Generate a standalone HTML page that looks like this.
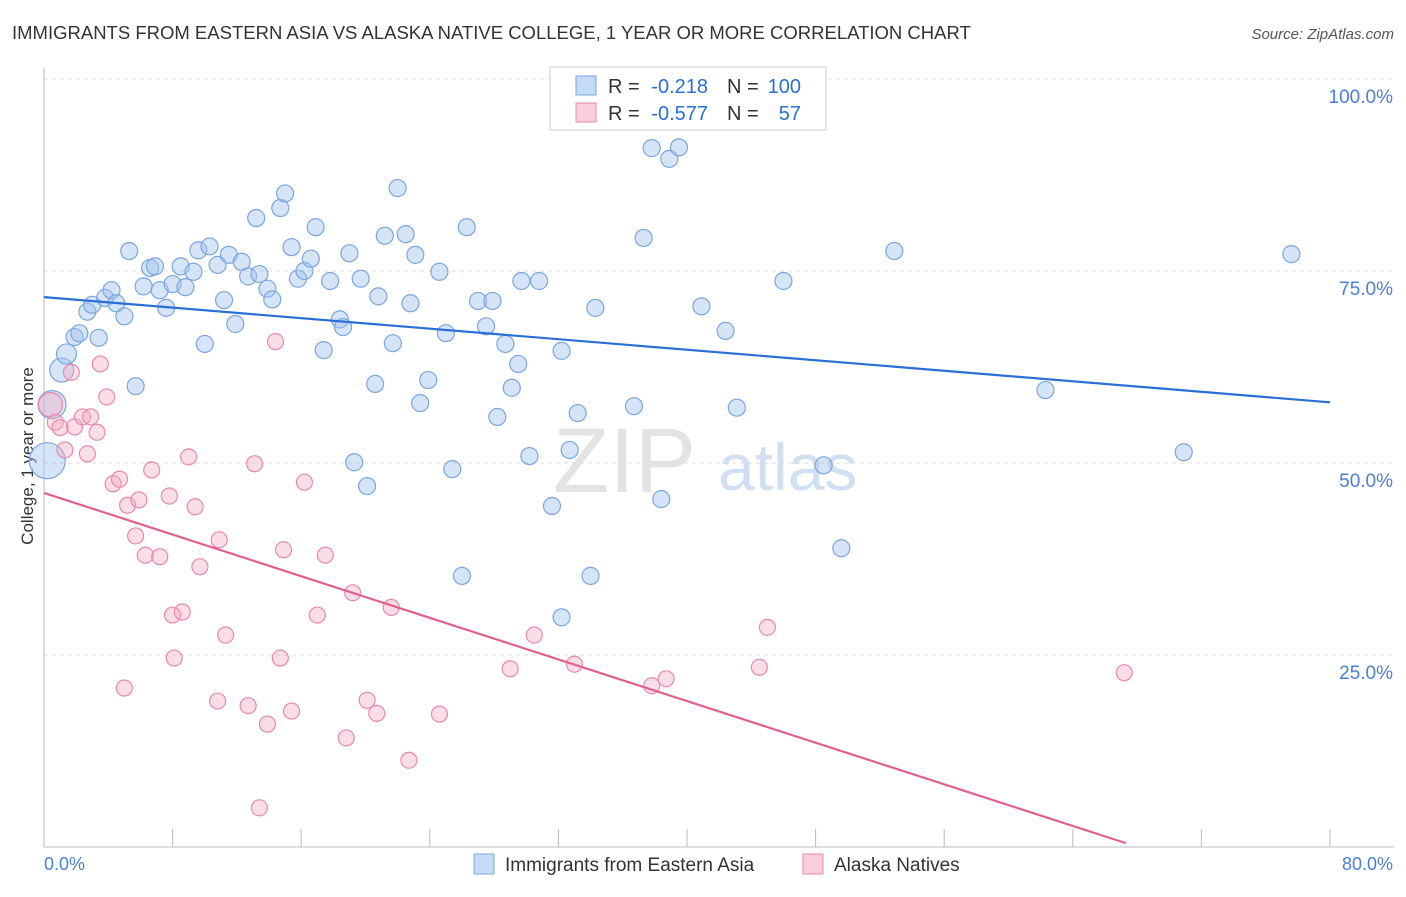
<!DOCTYPE html>
<html><head><meta charset="utf-8"><style>
body{margin:0;background:#fff;font-family:"Liberation Sans",sans-serif}
svg text{font-family:"Liberation Sans",sans-serif}
</style></head><body>
<svg id="chart" width="1406" height="892" viewBox="0 0 1406 892">
<text x="12" y="39" font-size="18.5" fill="#333">IMMIGRANTS FROM EASTERN ASIA VS ALASKA NATIVE COLLEGE, 1 YEAR OR MORE CORRELATION CHART</text>
<text x="1394" y="39" font-size="15" fill="#555" text-anchor="end" font-style="italic">Source: ZipAtlas.com</text>
<text transform="translate(33,456) rotate(-90)" font-size="17" fill="#333" text-anchor="middle">College, 1 year or more</text>
<g id="grid"></g>
<text x="553" y="492" font-size="92" fill="#ddd" font-family="Liberation Serif" opacity="0.8">ZIP</text>
<text x="718" y="490" font-size="66" fill="#c6d8f0" opacity="0.8">atlas</text>
<g id="marks"></g>
<g>
<rect x="550" y="67" width="276" height="63" fill="#fff" stroke="#ccc"/>
<rect x="576" y="76" width="20" height="19" fill="#c4daf7" stroke="#7aa6e0"/>
<rect x="576" y="103" width="20" height="19" fill="#f9cdd9" stroke="#e88aaa"/>
<text x="608" y="93" font-size="20" fill="#333">R =</text>
<text x="708" y="93" font-size="20" fill="#2a6fd6" text-anchor="end">-0.218</text>
<text x="727" y="93" font-size="20" fill="#333">N =</text>
<text x="801" y="93" font-size="20" fill="#2a6fd6" text-anchor="end">100</text>
<text x="608" y="120" font-size="20" fill="#333">R =</text>
<text x="708" y="120" font-size="20" fill="#2a6fd6" text-anchor="end">-0.577</text>
<text x="727" y="120" font-size="20" fill="#333">N =</text>
<text x="801" y="120" font-size="20" fill="#2a6fd6" text-anchor="end">57</text>
</g>
<g>
<rect x="474" y="854" width="20" height="20" fill="#c4daf7" stroke="#7aa6e0"/>
<text x="505" y="871" font-size="19" fill="#333">Immigrants from Eastern Asia</text>
<rect x="803" y="854" width="20" height="20" fill="#f9cdd9" stroke="#e88aaa"/>
<text x="834" y="871" font-size="19" fill="#333">Alaska Natives</text>
</g>
</svg>
<script>
const blueX=[0.2,0.5,1.1,1.4,1.9,2.2,2.7,3.0,3.4,3.8,4.2,4.5,5.0,5.3,5.7,6.2,6.6,6.9,7.2,7.6,8.0,8.5,8.8,9.3,9.6,10.0,10.3,10.8,11.2,11.5,11.9,12.3,12.7,13.2,13.4,13.9,14.2,14.7,15.0,15.4,15.8,16.2,16.6,16.9,17.4,17.8,18.4,18.6,19.0,19.3,19.7,20.1,20.6,20.8,21.2,21.7,22.0,22.5,22.8,23.1,23.4,23.9,24.6,25.0,25.4,26.0,26.3,27.0,27.5,27.9,28.2,28.7,29.1,29.5,29.7,30.2,30.8,31.6,32.2,32.7,33.2,34.0,34.3,32.2,36.7,37.3,37.8,38.4,38.9,39.5,40.9,42.4,43.1,46.0,48.5,49.6,52.9,62.3,70.9,77.6];
const blueY=[50.3,57.6,62.1,64.2,66.4,66.9,69.7,70.6,66.3,71.5,72.5,70.8,69.1,77.6,60.0,73.0,75.4,75.6,72.5,70.2,73.3,75.6,72.9,74.9,77.7,65.5,78.2,75.8,71.2,77.1,68.1,76.2,74.3,81.9,74.6,72.7,71.3,83.2,85.1,78.1,74.0,75.0,76.6,80.7,64.7,73.7,68.7,67.7,77.3,50.1,74.0,47.0,60.3,71.7,79.6,65.6,85.8,79.8,70.8,77.1,57.8,60.8,74.9,66.9,49.2,35.3,80.7,71.1,67.8,71.1,56.0,65.5,59.8,62.9,73.7,50.9,73.7,44.4,64.6,51.7,56.5,35.3,70.2,29.9,57.4,79.3,91.0,45.3,89.6,91.1,70.4,67.2,57.2,73.7,49.7,38.9,77.6,59.5,51.4,77.2];
const pinkX=[0.4,0.7,1.0,1.3,1.7,1.9,2.4,2.7,2.9,3.3,3.5,3.9,4.3,4.7,5.0,5.2,5.7,5.9,6.3,6.7,7.2,7.8,8.0,8.1,8.6,9.0,9.4,9.7,10.8,10.9,11.3,12.7,13.1,13.4,13.9,14.4,14.7,14.9,15.4,16.2,17.0,17.5,19.2,18.8,20.1,20.7,21.6,22.7,24.6,29.0,30.5,33.0,37.8,38.7,44.5,45.0,67.2];
const pinkY=[57.6,55.3,54.6,51.7,61.8,54.7,56.0,51.2,56.0,54.0,62.9,58.6,47.3,47.9,20.7,44.5,40.5,45.2,38.0,49.1,37.8,45.7,30.2,24.6,30.6,50.8,44.3,36.5,19.0,40.0,27.6,18.4,49.9,5.1,16.0,65.8,24.6,38.7,17.7,47.5,30.2,38.0,33.1,14.2,19.1,17.4,31.2,11.3,17.3,23.2,27.6,23.8,21.0,21.9,23.4,28.6,22.7];
const blueTrend=[71.6,57.9];
const pinkTrend=[46.1,-8.1];
const yTicks=[25,50,75,100];
const xTicks=[0,8,16,24,32,40,48,56,64,72,80];

const NS="http://www.w3.org/2000/svg";
const X=v=>44+v*16.075, Y=v=>847-v*7.68;
function mk(t,a,p){const e=document.createElementNS(NS,t);for(const k in a)e.setAttribute(k,a[k]);p.appendChild(e);return e;}
const grid=document.getElementById('grid'), marks=document.getElementById('marks');
yTicks.forEach(t=>{
 const l=mk('line',{x1:44,x2:1394,y1:Y(t),y2:Y(t),stroke:'#ddd','stroke-dasharray':'4,4'},grid);
 
 
 const tx=mk('text',{x:1393,y:Y(t)+24,'font-size':19,fill:'#4a7fd4','text-anchor':'end'},grid);
 tx.textContent=t.toFixed(1)+'%';
 
 
});
const topGrid=mk('line',{x1:44,x2:1394,y1:79,y2:79,stroke:'#ddd','stroke-dasharray':'4,4'},grid);


const ax=mk('line',{x1:44,x2:1394,y1:847,y2:847,stroke:'#bbb'},grid);


const ay=mk('line',{x1:44,x2:44,y1:68,y2:847,stroke:'#bbb'},grid);


xTicks.forEach(t=>{
 const l=mk('line',{x1:X(t),x2:X(t),y1:829,y2:847,stroke:'#bbb'},grid);
 
 
});
[[0,'start',44],[80,'end',1393]].forEach(([t,an,x])=>{
 const tx=mk('text',{x:x,y:870,'font-size':18,fill:'#4a7fd4','text-anchor':an},grid);
 tx.textContent=t.toFixed(1)+'%';
 
 
});
blueX.forEach((v,i)=>{
 const r=i===0?18:i===1?14:i===2?12:i===3?10:8.5;
 const c=mk('circle',{cx:X(v),cy:Y(blueY[i]),r:r,fill:'rgba(164,196,240,0.45)',stroke:'#7aa6e0','stroke-width':1.2},marks);
 
 
});
pinkX.forEach((v,i)=>{
 const r=i===0?12:8;
 const c=mk('circle',{cx:X(v),cy:Y(pinkY[i]),r:r,fill:'rgba(244,170,196,0.4)',stroke:'#e88aaa','stroke-width':1.2},marks);
 
 
});
const bl=mk('line',{x1:X(0),y1:Y(blueTrend[0]),x2:X(80),y2:Y(blueTrend[1]),stroke:'#2a6fd6','stroke-width':2.2},marks);


const xe=67.3, ye=pinkTrend[0]+(pinkTrend[1]-pinkTrend[0])*xe/80;
const pl=mk('line',{x1:X(0),y1:Y(pinkTrend[0]),x2:X(xe),y2:Y(ye),stroke:'#e0608e','stroke-width':2.2},marks);


</script>
</body></html>
